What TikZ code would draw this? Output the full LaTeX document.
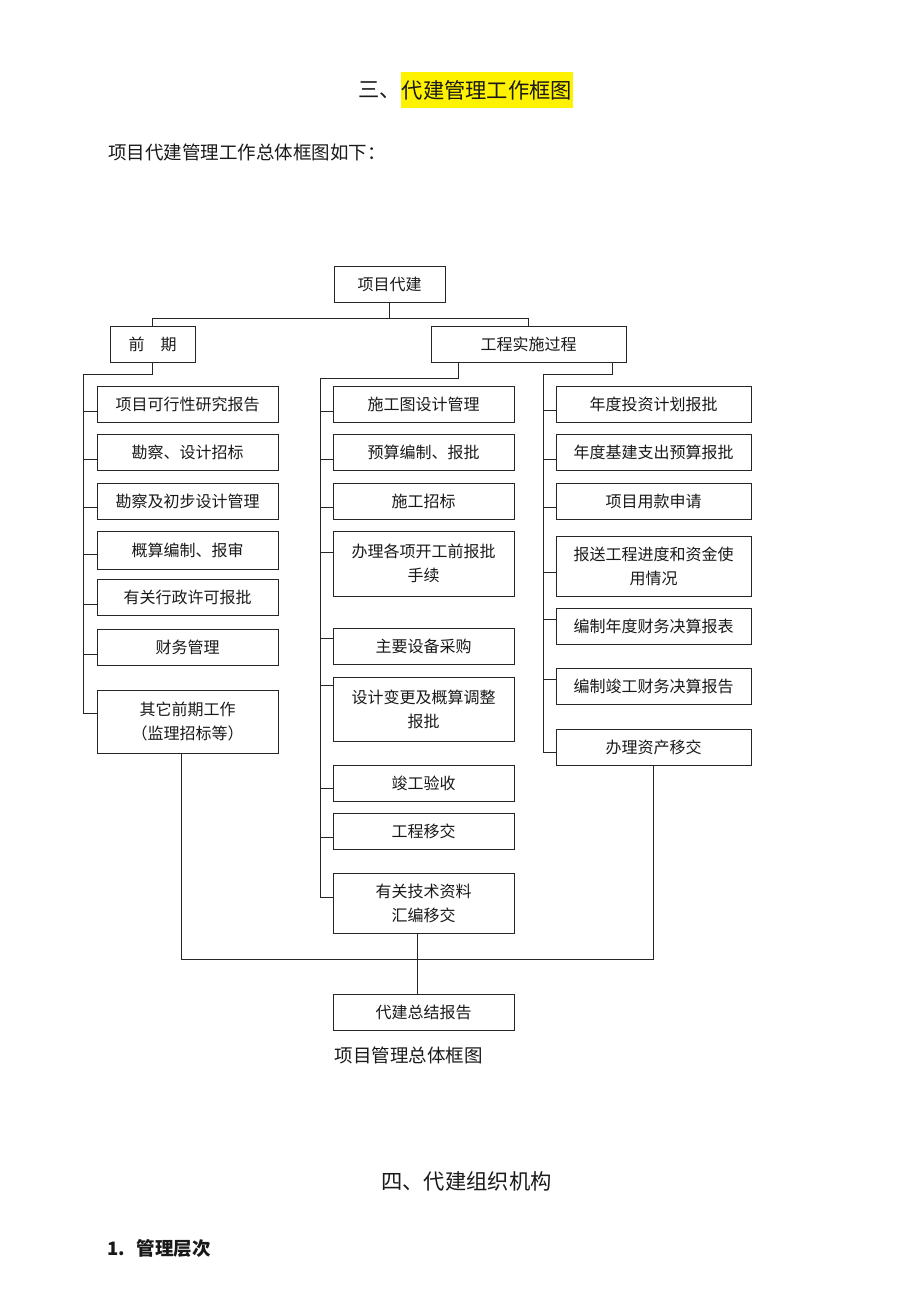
\documentclass[tikz,border=0pt]{standalone}
\usepackage{fontspec}
\setmainfont{Noto Sans CJK SC}
\usepackage{tikz}
\usetikzlibrary{positioning}
\newcommand{\boxfont}{\fontsize{16pt}{24pt}\selectfont}
\newcommand{\headfont}{\fontsize{21.3pt}{26pt}\selectfont}
\newcommand{\bodyfont}{\fontsize{18.5pt}{24pt}\selectfont}
\tikzstyle{box} = [draw=black!85, line width=1pt, minimum height=36pt, inner sep=0pt, align=center, text=black!90, font=\boxfont]
\tikzstyle{narrow} = [box, minimum width=181pt]
\tikzstyle{wide} = [box, minimum width=195pt]
\tikzstyle{link} = [draw=black!85, line width=1pt]
\tikzstyle{plain} = [inner sep=0pt, text=black!90]

\begin{document}
\begin{tikzpicture}[x=1pt,y=-1pt]
        \useasboundingbox (0,0) rectangle (920,1302);
        % headings
        \node[plain,anchor=west,font=\headfont](h3) at (358,90){三、};
        \node[right=0pt of h3,fill=yellow,inner xsep=0.5pt,inner ysep=0pt,minimum height=36pt,text=black!90,font=\headfont](h3t){代建管理工作框图};
        \node[plain,anchor=west,font=\bodyfont](intro) at (108,152){项目代建管理工作总体框图如下：};
        % top levels
        \node[box,minimum width=111pt](top) at (389.5,284){项目代建};
        \node[box,minimum width=85pt](qq) at (152.5,344){前\hspace{1em}期};
        \node[wide](gc) at (528.5,344){工程实施过程};
        % left column
        \node[narrow](l1) at (187.5,404.5){项目可行性研究报告};
        \node[narrow](l2) at (187.5,452.5){勘察、设计招标};
        \node[narrow](l3) at (187.5,501){勘察及初步设计管理};
        \node[narrow,minimum height=38pt](l4) at (187.5,550){概算编制、报审};
        \node[narrow](l5) at (187.5,597){有关行政许可报批};
        \node[narrow](l6) at (187.5,647.5){财务管理};
        \node[narrow,minimum height=63pt](l7) at (187.5,721.5){其它前期工作\\（监理招标等）};
        % middle column
        \node[narrow](m1) at (423.5,404.5){施工图设计管理};
        \node[narrow](m2) at (423.5,452.5){预算编制、报批};
        \node[narrow](m3) at (423.5,501){施工招标};
        \node[narrow,minimum height=65pt](m4) at (423.5,563.5){办理各项开工前报批\\手续};
        \node[narrow](m5) at (423.5,646){主要设备采购};
        \node[narrow,minimum height=64pt](m6) at (423.5,709){设计变更及概算调整\\报批};
        \node[narrow](m7) at (423.5,783){竣工验收};
        \node[narrow](m8) at (423.5,831){工程移交};
        \node[narrow,minimum height=60pt](m9) at (423.5,903){有关技术资料\\汇编移交};
        % right column
        \node[wide](r1) at (653.5,404.5){年度投资计划报批};
        \node[wide](r2) at (653.5,452.5){年度基建支出预算报批};
        \node[wide](r3) at (653.5,501){项目用款申请};
        \node[wide,minimum height=60pt](r4) at (653.5,566){报送工程进度和资金使\\用情况};
        \node[wide](r5) at (653.5,626){编制年度财务决算报表};
        \node[wide](r6) at (653.5,686){编制竣工财务决算报告};
        \node[wide](r7) at (653.5,747){办理资产移交};
        \node[narrow](sum) at (423.5,1012){代建总结报告};
        \node[plain,font=\bodyfont](cap) at (408.5,1055){项目管理总体框图};
        % next section
        \node[plain,anchor=west,font=\headfont](h4) at (381,1181){四、代建组织机构};
        \node[plain,anchor=west,font=\bodyfont\bfseries](sec) at (107,1248){1.\hspace{12pt}管理层次};
        % bus lines
        \coordinate (tbus) at (389.5,318);
        \coordinate (lbus) at (83,374);
        \coordinate (mbus) at (320,378);
        \coordinate (rbus) at (543,374);
        \coordinate (jn) at (417,959);
        \draw[link](top)--(tbus);
        \draw[link](qq.north)|-(tbus);
        \draw[link](gc.north)|-(tbus);
        \draw[link](qq.south)|-(lbus)|-([yshift=8.5pt]l7.west);
        \draw[link]([xshift=28pt]gc.south west)|-(mbus)|-([yshift=6pt]m9.west);
        \draw[link]([xshift=-14pt]gc.south east)|-(rbus)|-([yshift=-5pt]r7.west);
        \foreach \b/\s in {l1/-6.5,l2/-6.5,l3/-6,l4/-4,l5/-7,l6/-6.5}
          \draw[link]([yshift=\s pt]\b.west)--([yshift=\s pt]\b.west-|lbus);
        \foreach \b/\s in {m1/-6.5,m2/-6.5,m3/-6,m4/11.5,m5/8,m6/24,m7/-5,m8/-6}
          \draw[link]([yshift=\s pt]\b.west)--([yshift=\s pt]\b.west-|mbus);
        \foreach \b/\s in {r1/-5.5,r2/-6.5,r3/-6,r4/-6,r5/7,r6/7}
          \draw[link]([yshift=\s pt]\b.west)--([yshift=\s pt]\b.west-|rbus);
        % summary
        \draw[link]([xshift=-6.5pt]l7.south)|-(jn)-|(r7.south);
        \draw[link]([xshift=-6.5pt]m9.south)--([xshift=-6.5pt]sum.north);
      \end{tikzpicture}
\end{document}
